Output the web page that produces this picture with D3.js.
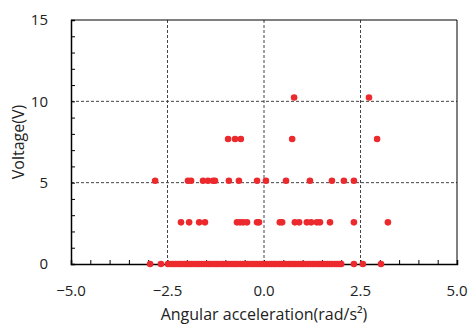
<!DOCTYPE html>
<html>
<head>
<meta charset="utf-8">
<script src="https://cdn.jsdelivr.net/npm/d3@7"></script>
<style>
  body { margin: 0; background: #fff; }
  svg text { font-family: "Open Sans", Lato, sans-serif; fill: #222; }
</style>
</head>
<body>
<div id="chart"><svg></svg></div>
<script>
// 读图得到的数据：电压为 2.56 的整数倍，每一行一组角加速度
const xTicks = [-5, -2.5, 0, 2.5, 5];
const yTicks = [0, 5, 10, 15];

const volt0 = [-2.95, -2.67, -2.49, -2.42, -2.36, -2.3, -2.24, -2.18, -2.12, -2.05, -1.99, -1.93,
  -1.87, -1.8, -1.74, -1.68, -1.62, -1.55, -1.49, -1.43, -1.37, -1.3, -1.24, -1.18, -1.11, -1.05,
  -0.99, -0.93, -0.86, -0.8, -0.74, -0.68, -0.61, -0.55, -0.49, -0.43, -0.36, -0.3, -0.24, -0.18,
  -0.11, -0.05, 0.01, 0.07, 0.14, 0.2, 0.26, 0.32, 0.39, 0.45, 0.51, 0.57, 0.64, 0.7, 0.76, 0.82,
  0.89, 0.95, 1.01, 1.07, 1.14, 1.2, 1.26, 1.32, 1.39, 1.45, 1.51, 1.57, 1.64, 1.7, 1.76, 1.83,
  1.89, 1.95, 2.0, 2.33, 2.56, 3.03];
const volt256 = [-2.15, -1.94, -1.68, -1.53, -0.7, -0.62, -0.54, -0.44, -0.18, -0.13, 0.41, 0.47,
  0.8, 0.91, 1.11, 1.22, 1.37, 1.45, 1.71, 2.33, 3.21];
const volt512 = [-2.82, -1.97, -1.89, -1.58, -1.45, -1.32, -1.27, -0.91, -0.65, -0.18, 0.05, 0.57,
  1.19, 1.76, 2.07, 2.33];
const volt768 = [-0.93, -0.75, -0.6, 0.73, 2.93];
const volt1024 = [0.78, 2.72];

const rows = [[0, volt0], [2.56, volt256], [5.12, volt512], [7.68, volt768], [10.24, volt1024]];
const points = rows.flatMap(([v, xs]) => xs.map(a => ({ a, v })));

const width = 468, height = 326;
const marginTop = 20, marginRight = 11, marginBottom = 62, marginLeft = 71;

const x = d3.scaleLinear().domain([-5, 5]).range([marginLeft, width - marginRight]);
const y = d3.scaleLinear().domain([0, 15]).range([height - marginBottom, marginTop]);

const svg = d3.select("#chart svg")
    .attr("width", width)
    .attr("height", height)
    .attr("viewBox", [0, 0, width, height]);

// 网格虚线
svg.append("g")
  .selectAll("line")
  .data(xTicks.filter(d => d > -5 && d < 5))
  .join("line")
    .attr("x1", d => x(d)).attr("x2", d => x(d))
    .attr("y1", y(15)).attr("y2", y(0))
    .attr("stroke", "#444").attr("stroke-dasharray", "3,2");
svg.append("g")
  .selectAll("line")
  .data(yTicks.filter(d => d > 0 && d < 15))
  .join("line")
    .attr("x1", x(-5)).attr("x2", x(5))
    .attr("y1", d => y(d)).attr("y2", d => y(d))
    .attr("stroke", "#444").attr("stroke-dasharray", "3,2");

// 边框（上、右）
svg.append("path")
    .attr("d", `M${x(-5)},${y(15)}H${x(5)}V${y(0)}`)
    .attr("fill", "none").attr("stroke", "#000").attr("stroke-width", 1);

// Y轴，刻度朝内
svg.append("g")
    .attr("transform", `translate(${marginLeft},0)`)
    .call(d3.axisRight(y).ticks(15).tickSize(4).tickFormat(""))
    .call(g => g.select(".domain").attr("stroke-width", 1.5));
svg.append("g")
  .selectAll("text")
  .data(yTicks)
  .join("text")
    .attr("x", 48).attr("y", d => y(d)).attr("dy", "0.35em")
    .attr("text-anchor", "end").attr("font-size", 15)
    .text(d => d);

// X轴，刻度朝内
svg.append("g")
    .attr("transform", `translate(0,${height - marginBottom})`)
    .call(d3.axisTop(x).ticks(20).tickSize(4).tickFormat(""))
    .call(g => g.select(".domain").attr("stroke-width", 1.5));
svg.append("g")
  .selectAll("text")
  .data(xTicks)
  .join("text")
    .attr("x", d => x(d)).attr("y", 296)
    .attr("text-anchor", "middle").attr("font-size", 15)
    .text(d => d3.format(".1f")(d));

// 点
svg.append("g")
  .selectAll("circle")
  .data(points)
  .join("circle")
    .attr("cx", d => x(d.a))
    .attr("cy", d => y(d.v))
    .attr("r", 3.3)
    .attr("fill", "#ec2a2e");

// 轴标题
svg.append("text")
    .attr("x", (x(-5) + x(5)) / 2).attr("y", 320)
    .attr("text-anchor", "middle").attr("font-size", 16)
    .text("Angular acceleration(rad/s²)");
svg.append("text")
    .attr("transform", `translate(24,${(y(0) + y(15)) / 2}) rotate(-90)`)
    .attr("text-anchor", "middle").attr("font-size", 16)
    .text("Voltage(V)");
</script>
</body>
</html>
